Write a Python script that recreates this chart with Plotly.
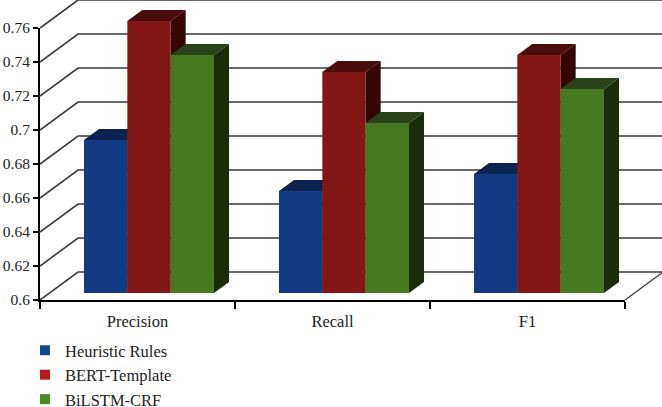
import plotly.graph_objects as go

categories = ["Precision", "Recall", "F1"]
series_names = ["Heuristic Rules", "BERT-Template", "BiLSTM-CRF"]
heuristic = [0.69, 0.66, 0.67]
bert = [0.76, 0.73, 0.74]
bilstm = [0.74, 0.70, 0.72]
y_ticks = [0.6, 0.62, 0.64, 0.66, 0.68, 0.7, 0.72, 0.74, 0.76]
y_labels = ["0.6", "0.62", "0.64", "0.66", "0.68", "0.7", "0.72", "0.74", "0.76"]
front = ["#133b85", "#821614", "#477a20"]
top = ["#0c2350", "#4a0c0c", "#2a431a"]
side = ["#0a1c40", "#340606", "#1b2c0c"]
legend_colors = ["#124a8f", "#b81c1c", "#4a8a25"]

W, H = 662, 407
PX_X = 1 / 195          # data units per pixel, x
PX_Y = 0.16 / 272       # data units per pixel, y
GRID = "#3a3a3a"
TICK_FONT = dict(family="Liberation Serif", size=15.5, color="#222222")
CAT_FONT = dict(family="Liberation Serif", size=16.5, color="#222222")
all_vals = [heuristic, bert, bilstm]

fig = go.Figure()

# back wall and side wall
wall_dx, wall_dy = 38 * PX_X, 28 * PX_Y
xl, xr = -0.5, 2.5
xmax = xl + (W - 40) * PX_X
ymax_wall = 0.6 + 300 * PX_Y
for v in y_ticks:
    fig.add_trace(go.Scatter(x=[xl, xl + wall_dx, xmax], y=[v, v + wall_dy, v + wall_dy],
                             mode="lines", line=dict(color=GRID, width=1.6),
                             showlegend=False, hoverinfo="skip"))
fig.add_trace(go.Scatter(x=[xr, xr + wall_dx], y=[0.6, 0.6 + wall_dy], mode="lines",
                         line=dict(color=GRID, width=1.3), showlegend=False, hoverinfo="skip"))

# tops and sides of the bars
gap = 1 / 3
bw = (1 - gap) / 3
depth_x, depth_y = 15 * PX_X, 11 * PX_Y
for s, vals in enumerate(all_vals):
    for i, v in enumerate(vals):
        x0 = i - (1 - gap) / 2 + s * bw
        x1 = x0 + bw
        fig.add_trace(go.Scatter(
            x=[x1, x1 + depth_x, x1 + depth_x, x1, x1],
            y=[0.6, 0.6 + depth_y, v + depth_y, v, 0.6],
            mode="lines", fill="toself", fillcolor=side[s], line=dict(width=0),
            showlegend=False, hoverinfo="skip", xaxis="x2", yaxis="y2"))
        fig.add_trace(go.Scatter(
            x=[x0, x0 + depth_x, x1 + depth_x, x1, x0],
            y=[v, v + depth_y, v + depth_y, v, v],
            mode="lines", fill="toself", fillcolor=top[s], line=dict(width=0),
            showlegend=False, hoverinfo="skip", xaxis="x2", yaxis="y2"))

# bar fronts
for s, vals in enumerate(all_vals):
    fig.add_trace(go.Bar(x=[0, 1, 2], y=[v - 0.6 for v in vals], base=0.6, name=series_names[s],
                         marker=dict(color=front[s], line=dict(width=0)),
                         showlegend=False, xaxis="x3", yaxis="y3"))

# axis frame holder, above everything else
fig.add_trace(go.Scatter(x=[None], y=[None], mode="markers", showlegend=False,
                         hoverinfo="skip", xaxis="x4", yaxis="y4"))

# legend entries
for s, name in enumerate(series_names):
    fig.add_trace(go.Scatter(x=[None], y=[None], mode="markers", name=name,
                             marker=dict(symbol="square", size=10, color=legend_colors[s]),
                             xaxis="x4", yaxis="y4"))

hidden = dict(visible=False, fixedrange=True)
xb_end = xl + (W - 51.5) * PX_X
yb_end = 0.6 + 293 * PX_Y

fig.update_layout(
    width=W, height=H, margin=dict(l=0, r=0, t=0, b=0, autoexpand=False),
    paper_bgcolor="white", plot_bgcolor="rgba(0,0,0,0)",
    font=CAT_FONT, barmode="group", bargap=gap, bargroupgap=0,
    # wall layer: runs to the page edge
    xaxis=dict(domain=[40 / W, 1], range=[xl, xmax], **hidden),
    yaxis=dict(domain=[(H - 300) / H, 1], range=[0.6, ymax_wall], **hidden),
    # bar depth layer and bar fronts: displaced from the axis plane
    xaxis2=dict(domain=[51.5 / W, 1], range=[xl, xb_end], anchor="y2", **hidden),
    yaxis2=dict(domain=[(H - 293) / H, 1], range=[0.6, yb_end], anchor="x2", **hidden),
    xaxis3=dict(domain=[51.5 / W, 1], range=[xl, xb_end], anchor="y3", **hidden),
    yaxis3=dict(domain=[(H - 293) / H, 1], range=[0.6, yb_end], anchor="x3", **hidden),
    # visible axes
    xaxis4=dict(domain=[40 / W, 625 / W], range=[xl, xr], anchor="y4", tickmode="array",
                tickvals=[0, 1, 2], ticktext=categories,
                showgrid=False, zeroline=False, showline=True, linecolor="#000000", linewidth=2,
                ticks="", ticklen=0, tickfont=CAT_FONT, fixedrange=True, ticklabelstandoff=5,
                minor=dict(ticks="outside", tick0=-0.5, dtick=1, ticklen=7, tickwidth=2,
                           tickcolor="#000000", showgrid=False)),
    yaxis4=dict(domain=[(H - 300) / H, (H - 28) / H], range=[0.6, 0.76], anchor="x4",
                tickmode="array", tickvals=y_ticks, ticktext=y_labels,
                showgrid=False, zeroline=False, showline=True, linecolor="#000000", linewidth=2,
                ticks="outside", ticklen=5, tickwidth=2, tickcolor="#000000", tickfont=TICK_FONT,
                fixedrange=True),
    legend=dict(x=25 / W, y=(H - 333) / H, xanchor="left", yanchor="top",
                bgcolor="rgba(0,0,0,0)", font=CAT_FONT,
                itemclick=False, itemdoubleclick=False),
    showlegend=True,
)
fig.write_html("out.html", config=dict(displayModeBar=False),
               post_script="document.body.style.margin='0';document.body.style.overflow='hidden';")
